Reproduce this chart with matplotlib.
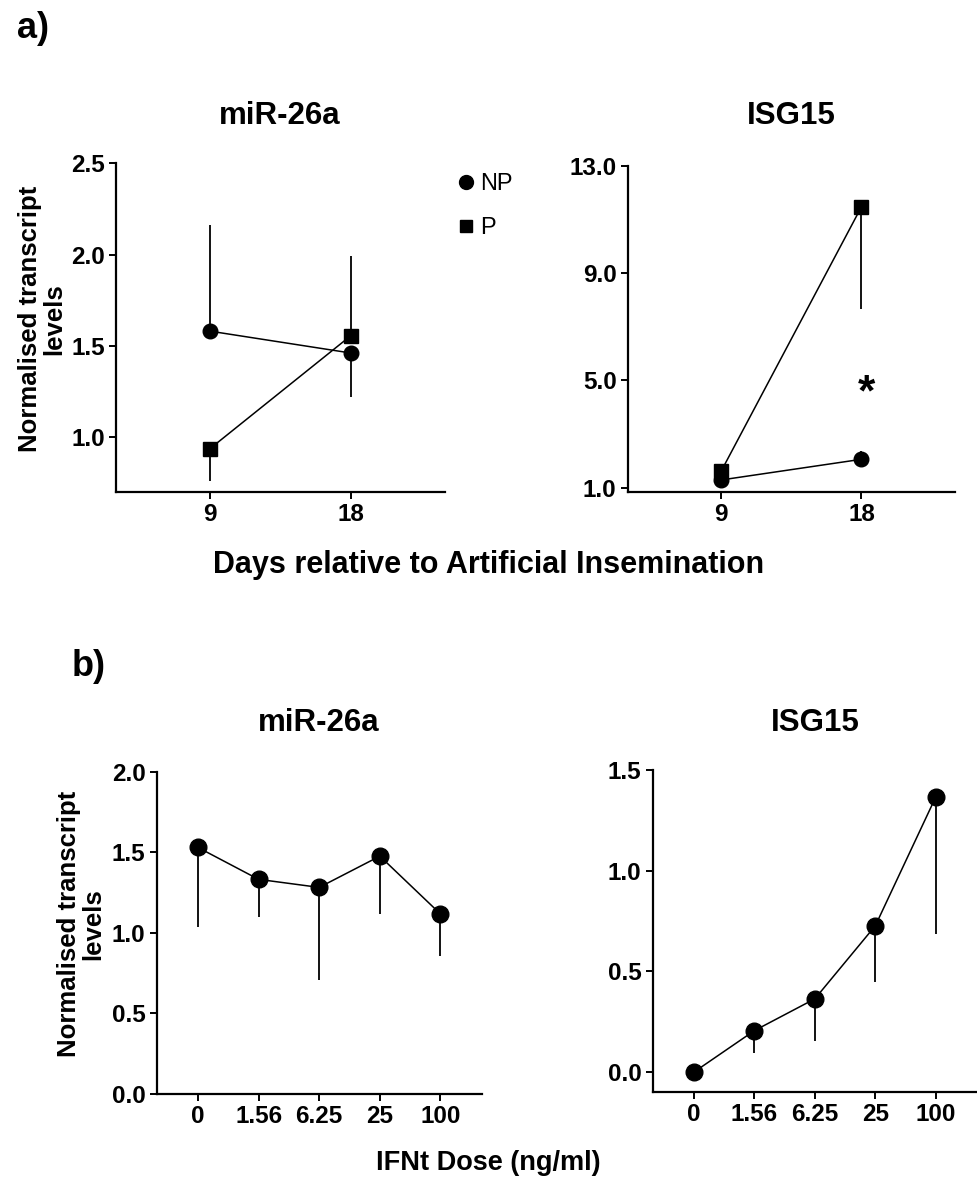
import numpy as np
import matplotlib
matplotlib.use("Agg")
import matplotlib.pyplot as plt
from matplotlib.lines import Line2D

plt.rcParams['font.family'] = ['Liberation Sans', 'DejaVu Sans']
plt.rcParams['font.weight'] = 'bold'

# panel a data: days relative to AI
days = [9, 18]
mir_np = [1.58, 1.46]
mir_np_lo = [0.0, 0.243]
mir_np_hi = [0.58, 0.0]
mir_p = [0.936, 1.556]
mir_p_lo = [0.176, 0.0]
mir_p_hi = [0.0, 0.434]

isg_np = [1.29, 2.06]
isg_np_lo = [0.0, 0.0]
isg_np_hi = [0.0, 0.31]
isg_p = [1.62, 11.47]
isg_p_lo = [0.0, 3.82]
isg_p_hi = [0.0, 0.0]

# panel b data: IFNt dose
doses = ["0", "1.56", "6.25", "25", "100"]
mir_dose = [1.53, 1.332, 1.282, 1.476, 1.117]
mir_dose_lo = [0.492, 0.232, 0.572, 0.356, 0.261]
isg_dose = [0.0, 0.206, 0.364, 0.727, 1.367]
isg_dose_lo = [0.0, 0.112, 0.207, 0.281, 0.682]

W, H = 977, 1187
TICK = 17.5
TITLE = 22.5
YLAB = 18.5
fig = plt.figure(figsize=(W / 100, H / 100), dpi=100)


def px_axes(x0, x1, ytop, ybot):
    return fig.add_axes([x0 / W, 1 - ybot / H, (x1 - x0) / W, (ybot - ytop) / H])


def style(ax):
    for s in ['top', 'right']:
        ax.spines[s].set_visible(False)
    for s in ['left', 'bottom']:
        ax.spines[s].set_linewidth(1.6)
    ax.tick_params(width=1.4, length=5, labelsize=TICK, pad=3)
    for lab in ax.get_xticklabels() + ax.get_yticklabels():
        lab.set_fontweight('bold')


def series(ax, x, y, lo, hi, marker, ms):
    ax.errorbar(x, y, yerr=[lo, hi], fmt='none', ecolor='black', elinewidth=1.3, capsize=0, zorder=2)
    ax.plot(x, y, color='black', lw=1.1, marker=marker, ms=ms, zorder=3)


def title(x, y, s):
    fig.text(x / W, 1 - y / H, s, ha='center', va='center', fontsize=TITLE, fontweight='bold')


ax1 = px_axes(116, 445, 163.3, 491.7)
series(ax1, days, mir_np, mir_np_lo, mir_np_hi, 'o', 10.5)
series(ax1, days, mir_p, mir_p_lo, mir_p_hi, 's', 9.5)
ax1.set_xlim(3, 24)
ax1.set_ylim(0.7, 2.5)
ax1.set_xticks(days)
ax1.set_yticks([1.0, 1.5, 2.0, 2.5])
ax1.set_yticklabels(['1.0', '1.5', '2.0', '2.5'])
style(ax1)
ax1.set_ylabel('Normalised transcript\nlevels', fontsize=YLAB, fontweight='bold', linespacing=1.0)
ax1.yaxis.set_label_coords(-0.152, 0.526)
title(280, 116, 'miR-26a')

ax2 = px_axes(627.7, 955, 165.7, 492.3)
series(ax2, days, isg_np, isg_np_lo, isg_np_hi, 'o', 10.5)
series(ax2, days, isg_p, isg_p_lo, isg_p_hi, 's', 9.5)
ax2.set_xlim(3, 24)
ax2.set_ylim(0.83, 13)
ax2.set_xticks(days)
ax2.set_yticks([1.0, 5.0, 9.0, 13.0])
ax2.set_yticklabels(['1.0', '5.0', '9.0', '13.0'])
style(ax2)
title(791, 116, 'ISG15')
ax2.text(18.3, 4.5, '*', fontsize=32, fontweight='bold', ha='center', va='center')

handles = [Line2D([], [], color='black', marker='o', ls='none', ms=10),
           Line2D([], [], color='black', marker='s', ls='none', ms=9)]
fig.legend(handles, ['NP', 'P'], loc='center left', bbox_to_anchor=(447 / W, 1 - 206 / H),
           frameon=False, handlelength=0.6, handletextpad=0.3, labelspacing=0.95,
           borderpad=0, prop={'weight': 'normal', 'size': 17})

fig.text(0.5, 1 - 565 / H, 'Days relative to Artificial Insemination', ha='center', va='center',
         fontsize=22, fontweight='bold')

xb = np.arange(len(doses))
ax3 = px_axes(156.7, 481.7, 771.7, 1094)
series(ax3, xb, mir_dose, mir_dose_lo, [0] * len(doses), 'o', 12)
ax3.set_xlim(-0.68, 4.68)
ax3.set_ylim(0, 2.0)
ax3.set_xticks(xb)
ax3.set_xticklabels(doses)
ax3.set_yticks([0.0, 0.5, 1.0, 1.5, 2.0])
ax3.set_yticklabels(['0.0', '0.5', '1.0', '1.5', '2.0'])
style(ax3)
ax3.set_ylabel('Normalised transcript\nlevels', fontsize=YLAB, fontweight='bold', linespacing=1.0)
ax3.yaxis.set_label_coords(-0.158, 0.527)
title(319, 723, 'miR-26a')

ax4 = px_axes(652.7, 977, 770, 1092.3)
series(ax4, xb, isg_dose, isg_dose_lo, [0] * len(doses), 'o', 12)
ax4.set_xlim(-0.68, 4.68)
ax4.set_ylim(-0.1, 1.5)
ax4.set_xticks(xb)
ax4.set_xticklabels(doses)
ax4.set_yticks([0.0, 0.5, 1.0, 1.5])
ax4.set_yticklabels(['0.0', '0.5', '1.0', '1.5'])
style(ax4)
title(815, 723, 'ISG15')

fig.text(0.5, 1 - 1163 / H, 'IFNt Dose (ng/ml)', ha='center', va='center', fontsize=19.5, fontweight='bold')

fig.text(17 / W, 1 - 28 / H, 'a)', ha='left', va='center', fontsize=26, fontweight='bold')
fig.text(72 / W, 1 - 667 / H, 'b)', ha='left', va='center', fontsize=26, fontweight='bold')

fig.savefig('out.png', dpi=100, facecolor='white')
